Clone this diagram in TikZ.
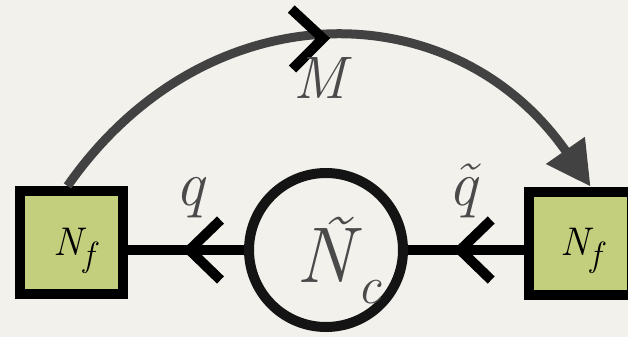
\documentclass[tikz,border=0pt]{standalone}
\usetikzlibrary{arrows.meta,decorations.markings}
\definecolor{paper}{HTML}{F3F1EC}
\definecolor{leaf}{HTML}{C3CF7C}
\definecolor{arcgray}{HTML}{424242}
\definecolor{labelgray}{HTML}{4A4A4A}
\tikzset{
  box/.style={draw=black, fill=leaf, line width=10pt, minimum size=103pt, inner sep=0pt},
  ring/.style={circle, draw=black!92, line width=10pt, minimum size=154pt, inner sep=0pt},
  wire/.style={line width=10pt, draw=black},
  chev/.style={postaction={decorate, decoration={markings, mark=at position #1 with {\draw[-, line width=10pt, black, line join=miter, line cap=butt] (-31,30) -- (0,0) -- (-31,-30);}}}},
  lbl/.style={text=labelgray, inner sep=0pt, anchor=base},
  boxtext/.style={text=black, inner sep=0pt, anchor=base west},
}
\begin{document}
\begin{tikzpicture}[x=1pt,y=-1pt]
\fill[paper] (0,0) rectangle (628,337);
\useasboundingbox (0,0) rectangle (628,337);
\node[box] (L) at (71.5,242.5) {};
\node[box] (R) at (580.5,243) {};
\node[ring] (C) at (326,250) {};
\coordinate (Lend) at (C.west -| L.east);
\coordinate (Rend) at (C.east -| R.west);
\draw[wire, chev=0.47] (C.west) -- (Lend);
\draw[wire, chev=0.55] (Rend) -- (C.east);
\draw[line width=9pt, arcgray, -{Triangle[length=44pt,width=45pt]}, chev=0.49]
  ([xshift=-4pt]L.north) .. controls (205,-11) and (453,-11) .. ([xshift=10pt]R.north);
\node[lbl] (q) at (191,205) {\fontsize{64}{64}\selectfont\textit{q}};
\node[lbl] (qt) at (465,205) {\fontsize{64}{64}\selectfont\textit{\~q}};
\node[lbl] (M) at (323,98) {\fontsize{60}{60}\selectfont\textit{M}};
\node[lbl, anchor=base west] (Nc) at (296,282) {\fontsize{79}{79}\selectfont\rlap{\kern-4pt\raisebox{14pt}{\textit{\~{\phantom{N}}}}}\textit{N}\kern-4pt\raisebox{-21pt}{\fontsize{53}{53}\selectfont\textit{c}}};
\node[boxtext] (Nl) at (53,255) {\fontsize{40}{40}\selectfont\textit{N}\kern-3pt\raisebox{-11pt}{\fontsize{35}{35}\selectfont\textit{f}}};
\node[boxtext] (Nr) at (560,255) {\fontsize{40}{40}\selectfont\textit{N}\kern-3pt\raisebox{-11pt}{\fontsize{35}{35}\selectfont\textit{f}}};
\end{tikzpicture}
\end{document}
